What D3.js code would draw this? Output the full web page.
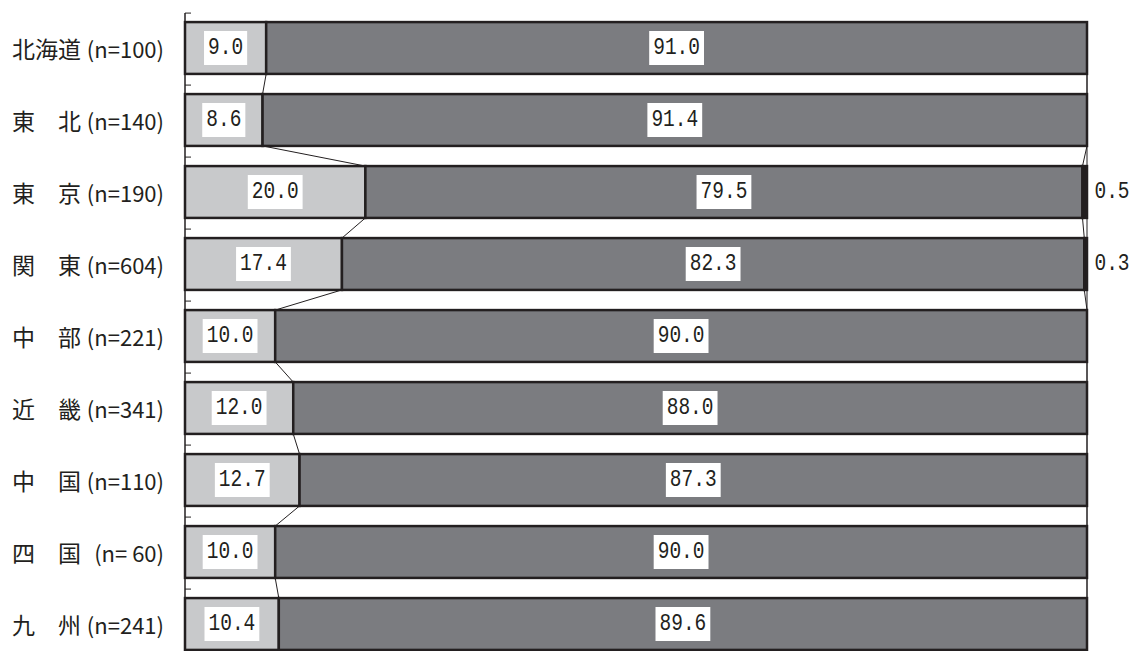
<!DOCTYPE html>
<html>
<head>
<meta charset="utf-8">
<script src="https://cdn.jsdelivr.net/npm/d3@7"></script>
<style>
  html, body { margin: 0; padding: 0; background: #fff; }
  svg { display: block; }
</style>
</head>
<body>
<svg id="chart" width="1139" height="651"></svg>
<script>
// Regions and sample sizes
const regions = ["北海道", "東　北", "東　京", "関　東", "中　部", "近　畿", "中　国", "四　国", "九　州"];
const sampleSizes = ["100", "140", "190", "604", "221", "341", "110", " 60", "241"];

// Percentages for the three stacked segments
const seriesA = [9.0, 8.6, 20.0, 17.4, 10.0, 12.0, 12.7, 10.0, 10.4];
const seriesB = [91.0, 91.4, 79.5, 82.3, 90.0, 88.0, 87.3, 90.0, 89.6];
const seriesC = [0, 0, 0.5, 0.3, 0, 0, 0, 0, 0];

const fills = ["#c8c9cb", "#7b7c80", "#231f20"];
const ink = "#231f20";

const svg = d3.select("#chart");
const x = d3.scaleLinear().domain([0, 100]).range([185, 1087]);
const y = d3.scaleBand().domain(d3.range(regions.length)).range([12, 12 + 72 * regions.length])
  .paddingInner(0.28).paddingOuter(0.14);
const bw = y.bandwidth();

const series = [seriesA, seriesB, seriesC];
const rows = regions.map((r, i) => {
  let acc = 0;
  const segs = series.map((s, k) => {
    const seg = { k, v: s[i], x0: acc, x1: acc + s[i] };
    acc += s[i];
    return seg;
  });
  return { i, segs };
});

// Left axis line with inward ticks at each category boundary
const axisTop = y(0) - 9;
svg.append("line").attr("x1", x(0)).attr("x2", x(0))
  .attr("y1", axisTop).attr("y2", 651).attr("stroke", ink).attr("stroke-width", 1.5);
svg.selectAll(".tick").data(d3.range(regions.length)).join("line")
  .attr("x1", x(0)).attr("x2", x(0) + 6)
  .attr("y1", i => y(i) - 9).attr("y2", i => y(i) - 9)
  .attr("stroke", ink).attr("stroke-width", 1);

// Series lines joining segment boundaries of neighbouring bars
for (let i = 0; i < rows.length - 1; i++) {
  for (let k = 0; k < 3; k++) {
    svg.append("line")
      .attr("x1", x(rows[i].segs[k].x1)).attr("y1", y(i) + bw)
      .attr("x2", x(rows[i + 1].segs[k].x1)).attr("y2", y(i + 1))
      .attr("stroke", ink).attr("stroke-width", 1);
  }
}

// Bars
const rowG = svg.selectAll(".row").data(rows).join("g").attr("class", "row");
rowG.selectAll("rect").data(d => d.segs.filter(s => s.v > 0).map(s => ({ ...s, i: d.i }))).join("rect")
  .attr("x", s => x(s.x0)).attr("y", s => y(s.i))
  .attr("width", s => x(s.x1) - x(s.x0)).attr("height", bw)
  .attr("fill", s => fills[s.k]).attr("stroke", ink).attr("stroke-width", 2.5);

// Value labels: boxed inside the first two segments, plain to the right for the third
const fmt = d3.format(".1f");
rows.forEach(row => {
  row.segs.forEach(s => {
    if (s.v <= 0) return;
    const cy = y(row.i) + bw / 2;
    const inside = s.k < 2;
    const cx = inside ? (x(s.x0) + x(s.x1)) / 2 : x(100) + 25;
    const g = svg.append("g").attr("transform", `translate(${cx},${cy})`);
    const box = g.append("rect");
    const t = g.append("text")
      .attr("text-anchor", "middle")
      .attr("dominant-baseline", "central")
      .attr("transform", "scale(1,1.22)")
      .attr("font-family", "'Liberation Mono', 'DejaVu Sans Mono', monospace")
      .attr("font-size", 19.5)
      .attr("fill", ink)
      .text(fmt(s.v));
    if (inside) {
      const w = t.node().getComputedTextLength() + 8;
      box.attr("x", -w / 2).attr("y", -17).attr("width", w).attr("height", 34).attr("fill", "#fff");
    } else {
      box.remove();
    }
  });
});

// Category labels: region name on the left, sample size right-aligned
svg.selectAll(".cat").data(regions).join("text")
  .attr("class", "cat")
  .attr("x", 12)
  .attr("y", (d, i) => y(i) + bw / 2)
  .attr("dominant-baseline", "central")
  .attr("font-family", "'Noto Sans CJK JP', sans-serif")
  .attr("font-size", 23)
  .attr("fill", ink)
  .text(d => d);

svg.selectAll(".num").data(sampleSizes).join("text")
  .attr("class", "num")
  .attr("x", 164)
  .attr("y", (d, i) => y(i) + bw / 2)
  .attr("text-anchor", "end")
  .attr("dominant-baseline", "central")
  .attr("font-family", "'Noto Sans CJK JP', sans-serif")
  .attr("font-size", 22)
  .attr("fill", ink)
  .style("white-space", "pre")
  .text(d => "(n=" + d + ")");
</script>
</body>
</html>
